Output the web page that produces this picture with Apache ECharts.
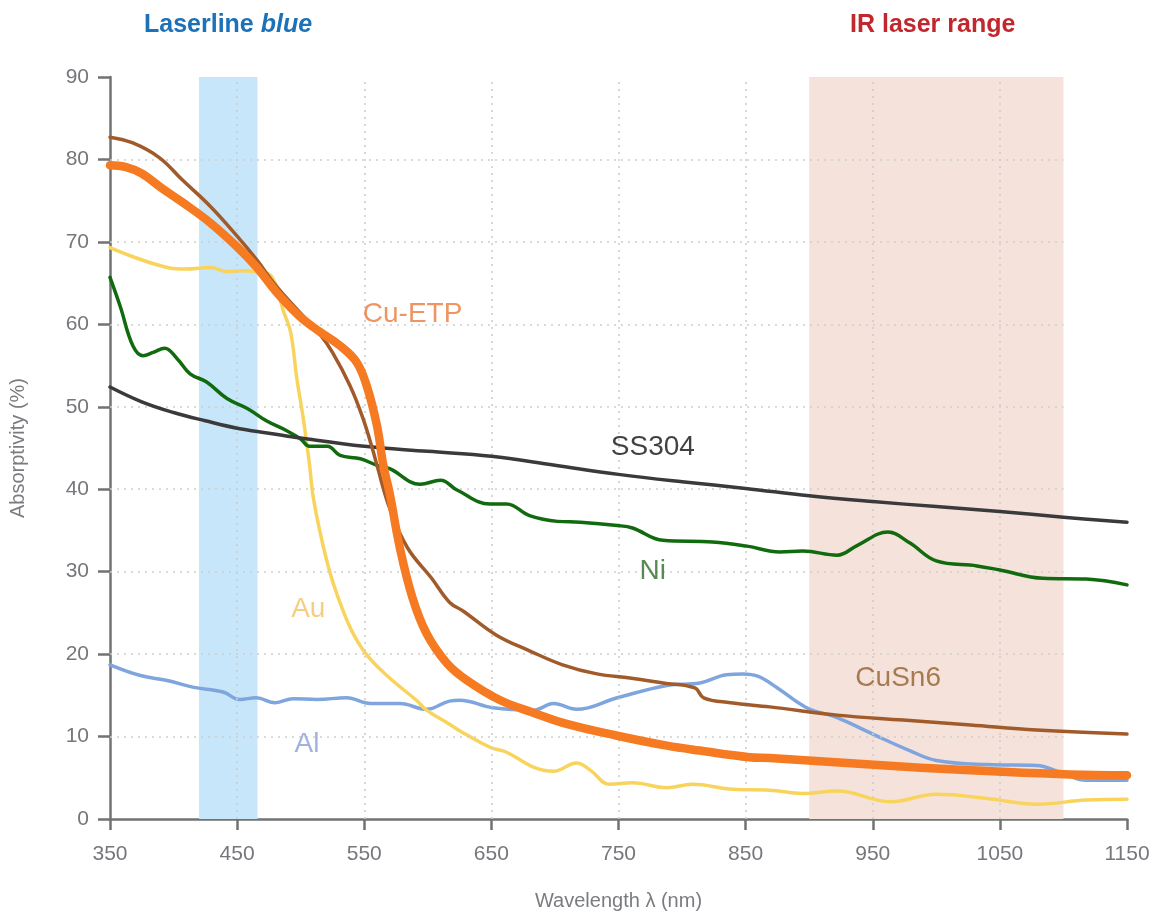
<!DOCTYPE html>
<html>
<head>
<meta charset="utf-8">
<script src="https://cdn.jsdelivr.net/npm/echarts@6/dist/echarts.min.js"></script>
<style>html,body{margin:0;padding:0;background:#fff}#c{width:1163px;height:916px}</style>
</head>
<body>
<div id="c"></div>
<script>
// ---- data (wavelength nm, absorptivity %) ----
var ss304 = [[350,52.4],[375,50.6],[400,49.3],[425,48.3],[450,47.4],[475,46.8],[500,46.2],[550,45.2],[600,44.6],[650,44.0],[700,42.9],[750,41.8],[800,40.9],[850,40.1],[900,39.2],[950,38.5],[1000,37.9],[1050,37.3],[1100,36.6],[1150,36.0]];
var ni = [[350,65.7],[358,62.2],[368,57.4],[376,56.2],[384,56.6],[393,57.1],[403,55.8],[413,54.0],[426,53.0],[442,51.0],[458,49.8],[473,48.3],[489,47.1],[500,46.1],[507,45.2],[521,45.2],[531,44.1],[547,43.7],[560,42.9],[570,42.5],[594,40.6],[610,41.1],[623,39.9],[649,38.2],[662,38.2],[680,36.8],[702,36.1],[720,36.0],[749,35.6],[761,35.3],[785,33.8],[824,33.6],[851,33.1],[877,32.4],[895,32.5],[922,32.0],[938,33.2],[962,34.8],[979,33.5],[1000,31.3],[1032,30.7],[1050,30.2],[1084,29.2],[1118,29.1],[1150,28.4]];
var au = [[350,69.3],[368,68.2],[395,66.9],[410,66.7],[429,66.9],[442,66.4],[455,66.5],[470,66.3],[476,66.0],[481,64.6],[486,61.8],[492,59.1],[497,53.4],[502,48.6],[507,42.9],[510,38.9],[518,32.9],[526,28.4],[539,23.2],[552,19.9],[570,17.1],[591,14.4],[599,13.2],[617,11.5],[625,10.7],[649,8.7],[662,8.1],[683,6.3],[699,5.8],[717,6.8],[728,5.9],[743,4.2],[761,4.4],[788,3.8],[808,4.2],[840,3.6],[869,3.5],[895,3.1],[922,3.4],[964,2.1],[1000,3.0],[1040,2.5],[1079,1.8],[1118,2.3],[1150,2.4]];
var al = [[350,18.7],[374,17.4],[395,16.8],[415,16.0],[439,15.4],[452,14.5],[465,14.7],[480,14.1],[494,14.6],[513,14.5],[536,14.7],[555,14.0],[578,14.0],[599,13.3],[617,14.3],[625,14.4],[651,13.5],[683,13.2],[699,14.0],[717,13.3],[749,14.7],[788,16.2],[814,16.5],[835,17.5],[848,17.6],[860,17.3],[875,15.9],[898,13.5],[922,12.3],[950,10.3],[979,8.3],[1000,7.1],[1040,6.6],[1079,6.5],[1097,5.7],[1118,4.7],[1150,4.7]];
var cuEtp = [[350,79.3],[362,79.1],[375,78.3],[390,76.6],[407,74.8],[429,72.3],[450,69.4],[465,67.0],[481,63.9],[499,61.0],[515,59.1],[531,57.4],[544,55.4],[552,52.5],[560,47.7],[565,42.9],[570,39.5],[578,32.9],[588,26.8],[599,22.5],[615,18.9],[631,16.8],[657,14.4],[683,12.9],[710,11.5],[749,10.1],[788,8.9],[814,8.3],[853,7.5],[869,7.4],[948,6.6],[1027,5.9],[1105,5.4],[1150,5.3]];
var cuSn6 = [[350,82.7],[368,82.0],[389,80.2],[407,77.5],[429,74.3],[450,70.7],[465,67.9],[481,64.6],[499,61.5],[515,58.8],[525,56.6],[539,52.5],[549,48.6],[557,44.6],[560,42.9],[570,37.7],[584,32.9],[603,29.2],[617,26.3],[628,25.2],[654,22.3],[680,20.4],[706,18.7],[733,17.6],[759,17.1],[785,16.5],[810,15.9],[817,14.7],[838,14.1],[869,13.6],[922,12.6],[974,12.0],[1027,11.4],[1079,10.8],[1150,10.3]];

var xTicks = [350,450,550,650,750,850,950,1050,1150];
var yTicks = [0,10,20,30,40,50,60,70,80,90];
var gridX = [450,550,650,750,850,950,1050];
var gridY = [10,20,30,40,50,60,70,80];
var blueBand = [420,466];
var irBand = [900,1100];

var seriesLabels = [
  {name:'Cu-ETP', value:[588,61.2], color:'#ea7a3c'},
  {name:'SS304', value:[777,45.1], color:'#111111'},
  {name:'Ni', value:[777,30.0], color:'#2f6b2b'},
  {name:'Au', value:[506,25.4], color:'#f3c262'},
  {name:'Al', value:[505,9.1], color:'#8a9fd8'},
  {name:'CuSn6', value:[970,17.1], color:'#93622f'}
];

var FONT = 'Liberation Sans, Arial, Helvetica, sans-serif';
var chart = echarts.init(document.getElementById('c'), null, {renderer:'canvas'});

function lineSeries(name, data, color, width, z) {
  return {
    name: name, type: 'line', data: data, showSymbol: false, symbol: 'none',
    smooth: 0.4, z: z,
    lineStyle: {color: color, width: width, cap: 'round', join: 'round'},
    emphasis: {disabled: true}, animation: false
  };
}

var hLines = gridY.map(function (v) { return [{coord:[350, v]}, {coord:[1100, v]}]; });
var vLines = gridX.map(function (v) { return [{coord:[v, 0]}, {coord:[v, 90]}]; });

var option = {
  animation: false,
  backgroundColor: '#ffffff',
  title: [
    {text: '{a|Laserline }{b|blue}', left: 139, top: 8,
      textStyle: {rich: {
        a: {fontSize: 25, fontFamily: FONT, color: '#1c71b8', fontWeight: 'bold'},
        b: {fontSize: 25, fontFamily: FONT, color: '#1c71b8', fontStyle: 'italic', fontWeight: 'bold'}
      }}},
    {text: 'IR laser range', left: 845, top: 8,
      textStyle: {fontSize: 25, fontFamily: FONT, color: '#c1272d', fontWeight: 'bold'}}
  ],
  grid: {left: 110, right: 36, top: 77, bottom: 94, containLabel: false},
  xAxis: {
    type: 'value', min: 350, max: 1150, interval: 100,
    name: 'Wavelength λ (nm)', nameLocation: 'middle', nameGap: 72,
    nameTextStyle: {fontSize: 20, fontFamily: FONT, color: '#7a7c80'},
    axisLine: {show: true, lineStyle: {color: '#707376', width: 2.5}},
    axisTick: {show: true, length: 11, lineStyle: {color: '#707376', width: 2.5}},
    axisLabel: {fontSize: 21, fontFamily: FONT, color: '#75777b', margin: 25,
      formatter: function (v) { return String(v); }},
    splitLine: {show: false}
  },
  yAxis: {
    type: 'value', min: 0, max: 90, interval: 10,
    name: 'Absorptivity (%)', nameLocation: 'middle', nameGap: 82,
    nameTextStyle: {fontSize: 20, fontFamily: FONT, color: '#7a7c80'},
    axisLine: {show: true, lineStyle: {color: '#707376', width: 2.5}},
    axisTick: {show: true, length: 12, lineStyle: {color: '#707376', width: 2.5}},
    axisLabel: {fontSize: 21, fontFamily: FONT, color: '#75777b', margin: 21,
      formatter: function (v) { return String(v); }},
    splitLine: {show: false}
  },
  series: [
    {type: 'line', data: [[350, 0]], symbol: 'none', lineStyle: {width: 0}, z: 0, silent: true,
      markArea: {silent: true, data: [
        [{xAxis: blueBand[0], itemStyle: {color: '#c8e6f9'}}, {xAxis: blueBand[1]}],
        [{xAxis: irBand[0], itemStyle: {color: '#f5e2db'}}, {xAxis: irBand[1]}]
      ]}},
    {type: 'line', data: [[350, 0]], symbol: 'none', lineStyle: {width: 0}, z: 1, silent: true,
      markLine: {silent: true, symbol: 'none', label: {show: false},
        lineStyle: {color: '#cdcecf', type: [2, 5], width: 1.6},
        data: hLines.concat(vLines)}},
    lineSeries('Al', al, '#7fa5de', 3.5, 3),
    lineSeries('Au', au, '#f8d45c', 3.5, 4),
    lineSeries('Ni', ni, '#116b0e', 3.5, 5),
    lineSeries('SS304', ss304, '#3a3a3d', 3.5, 6),
    lineSeries('CuSn6', cuSn6, '#a15b2b', 3.5, 7),
    lineSeries('Cu-ETP', cuEtp, '#f67a21', 8.5, 8),
    {type: 'scatter', z: 10, symbolSize: 0, silent: true,
      data: seriesLabels.map(function (d) {
        return {name: d.name, value: d.value,
          label: {show: true, position: 'inside', formatter: d.name, color: d.color,
            fontSize: 28, fontFamily: FONT}};
      })}
  ]
};
chart.setOption(option);
</script>
</body>
</html>
